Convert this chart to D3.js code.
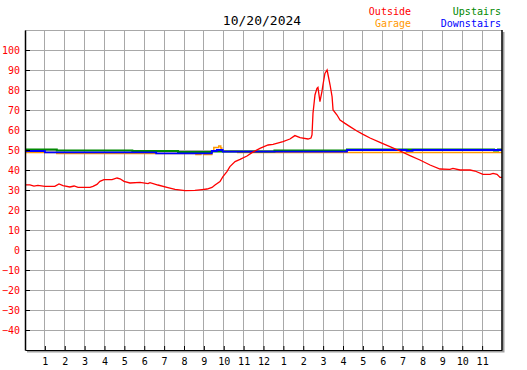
<!DOCTYPE html>
<html lang="en">
<head>
    <meta charset="UTF-8">
    <title>10/20/2024</title>
    <script src="https://d3js.org/d3.v7.min.js"></script>
    <style>
        body { margin: 0; background: #fff; }
        text { font-family: "DejaVu Sans Mono", monospace; }
    </style>
</head>
<body>
    <div id="chart"></div>

    <script>
        // data (hours since midnight, deg F)
        const title = "10/20/2024";
        const hourTicks = d3.range(1, 24);
        const tempTicks = d3.range(-40, 101, 10);

        const outsideTime = [0, 0.25, 0.45, 0.65, 1.0, 1.5, 1.71, 1.91, 2.26, 2.47, 2.67, 3.27, 3.42, 3.62, 3.77, 3.97,
            4.38, 4.63, 4.78, 4.98, 5.28, 5.79, 6.19, 6.29, 6.69, 7.19, 7.55, 8.05, 8.55, 8.91, 9.16, 9.41, 9.56,
            9.81, 9.96, 10.16, 10.31, 10.57, 10.82, 11.17, 11.42, 11.82, 12.23, 12.48, 12.98, 13.33, 13.58, 13.84,
            14.24, 14.39, 14.44, 14.49, 14.59, 14.69, 14.74, 14.84, 14.94, 14.99, 15.09, 15.2, 15.25, 15.35, 15.45,
            15.5, 15.7, 15.85, 16.1, 16.35, 16.7, 17.01, 17.36, 17.86, 18.36, 18.87, 19.37, 19.87, 20.38, 20.88,
            21.38, 21.53, 21.89, 22.39, 22.64, 23.04, 23.4, 23.55, 23.75, 23.9, 24];
        const outsideTemp = [32.6, 32.6, 31.9, 32.3, 31.8, 31.8, 33.0, 32.2, 31.5, 32.0, 31.3, 31.3, 31.8, 32.8, 34.3, 35.2,
            35.2, 36.0, 35.6, 34.3, 33.5, 33.8, 33.2, 33.7, 32.5, 31.2, 30.3, 29.7, 29.8, 30.2, 30.5, 31.3, 32.5,
            34.2, 36.7, 39.2, 41.7, 44.2, 45.3, 47.0, 48.7, 50.8, 52.5, 52.8, 54.2, 55.5, 57.2, 56.2,
            55.5, 56.0, 57.5, 68.3, 77.5, 80.8, 81.3, 74.2, 79.2, 82.5, 88.3, 90.0, 87.5, 82.5, 76.7,
            70.0, 67.5, 65.0, 63.3, 61.7, 59.5, 57.8, 56.0, 53.8, 51.7, 49.5, 47.2, 45.0, 42.5, 40.5,
            40.3, 40.8, 40.0, 40.0, 39.5, 37.8, 37.8, 38.3, 37.8, 36.3, 36.3];

        const garageTime = [0, 1.6, 8.6, 8.85, 9.0, 9.4, 9.5, 9.75, 9.85, 9.9, 9.95, 10.7, 24];
        const garageTemp = [48.7, 48.3, 47.8, 48.3, 47.8, 49.5, 51.3, 52.0, 51.0, 49.5, 49.2, 48.8, 48.8];

        const upstairsTime = [0, 1.6, 5.4, 7.7, 9.4, 12.55, 16.2, 23.6, 23.8, 24];
        const upstairsTemp = [50.3, 49.8, 49.5, 49.0, 49.2, 49.8, 50.3, 49.8, 50.3, 50.3];

        const downstairsTime = [0, 1.0, 6.6, 9.4, 9.65, 9.95, 16.2, 19.2, 19.5, 24];
        const downstairsTemp = [49.5, 48.8, 48.3, 49.5, 50.0, 49.2, 50.0, 49.6, 50.0, 50.0];

        const width = 527;
        const height = 370;
        const margin = { top: 30, right: 25, bottom: 20, left: 25 };

        const svg = d3.select("#chart")
            .append("svg")
            .attr("width", width)
            .attr("height", height);

        const x = d3.scaleLinear()
            .domain([0, 24])
            .range([margin.left, width - margin.right]);

        const y = d3.scaleLinear()
            .domain([-50, 110])
            .range([height - margin.bottom, margin.top]);

        // shadow right and bottom
        svg.append("path")
            .attr("d", `M${x(24) + 1.5},${y(110) + 2}V${y(-50) + 1.5}H${x(0) + 2}`)
            .attr("fill", "none")
            .attr("stroke", "#a0a0a0")
            .attr("stroke-width", 2);

        // grid
        const grid = svg.append("g")
            .attr("stroke", "#a8a8a8")
            .attr("shape-rendering", "crispEdges");
        grid.selectAll(".gx")
            .data(hourTicks)
            .join("line")
            .attr("x1", d => x(d)).attr("x2", d => x(d))
            .attr("y1", y(110)).attr("y2", y(-50));
        grid.selectAll(".gy")
            .data(tempTicks.concat([110]))
            .join("line")
            .attr("x1", x(0)).attr("x2", x(24))
            .attr("y1", d => y(d)).attr("y2", d => y(d));

        // series
        const line = (times, temps) => d3.line()
            .x((d, i) => x(times[i]))
            .y(d => y(d))(temps);
        const step = (times, temps) => d3.line()
            .curve(d3.curveStepAfter)
            .x((d, i) => x(times[i]))
            .y(d => y(d))(temps);

        svg.append("path")
            .attr("d", step(garageTime, garageTemp))
            .attr("fill", "none").attr("stroke", "#ff9900").attr("stroke-width", 1.5);
        svg.append("path")
            .attr("d", step(upstairsTime, upstairsTemp))
            .attr("fill", "none").attr("stroke", "#008800").attr("stroke-width", 2);
        svg.append("path")
            .attr("d", step(downstairsTime, downstairsTemp))
            .attr("fill", "none").attr("stroke", "#0000ff").attr("stroke-width", 1.8);
        svg.append("path")
            .attr("d", line(outsideTime, outsideTemp))
            .attr("fill", "none").attr("stroke", "#ff0000").attr("stroke-width", 1.3);

        // right border
        svg.append("line")
            .attr("x1", x(24)).attr("x2", x(24))
            .attr("y1", y(110)).attr("y2", y(-50))
            .attr("stroke", "#000").attr("stroke-width", 1.5);

        // axes
        const yAxis = svg.append("g")
            .attr("transform", `translate(${x(0)},0)`)
            .call(d3.axisLeft(y).tickValues(tempTicks).tickSize(-5).tickSizeOuter(0).tickPadding(5));
        yAxis.select(".domain").attr("stroke", "#000").attr("stroke-width", 1.5);
        yAxis.selectAll("text")
            .attr("fill", "#ff0000")
            .style("font-family", "'DejaVu Sans Mono', monospace")
            .style("font-size", "10px");

        const xAxis = svg.append("g")
            .attr("transform", `translate(0,${y(-50)})`)
            .call(d3.axisBottom(x).tickValues(hourTicks).tickFormat(h => (h - 1) % 12 + 1)
                .tickSize(-4).tickSizeOuter(0).tickPadding(8));
        xAxis.select(".domain").attr("stroke", "#000").attr("stroke-width", 1.2);
        xAxis.selectAll("text")
            .attr("fill", "#000")
            .style("font-family", "'DejaVu Sans Mono', monospace")
            .style("font-size", "10px");

        // title and legend
        svg.append("text")
            .attr("x", 262).attr("y", 25)
            .attr("text-anchor", "middle")
            .style("font-size", "13px")
            .text(title);

        const legend = [
            { name: "Outside", color: "#ff0000", x: 411, y: 15 },
            { name: "Garage", color: "#ff9900", x: 411, y: 27 },
            { name: "Upstairs", color: "#008800", x: 501, y: 15 },
            { name: "Downstairs", color: "#0000ff", x: 501, y: 27 }
        ];
        svg.selectAll(".legend")
            .data(legend)
            .join("text")
            .attr("x", d => d.x).attr("y", d => d.y)
            .attr("text-anchor", "end")
            .attr("fill", d => d.color)
            .style("font-size", "10px")
            .text(d => d.name);
    </script>
</body>
</html>
